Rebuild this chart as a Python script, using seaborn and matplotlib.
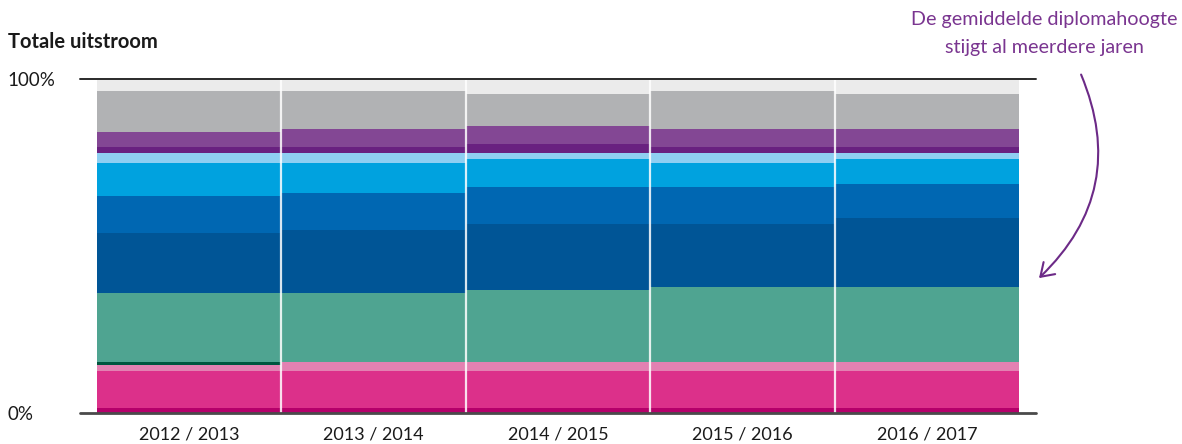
import matplotlib
matplotlib.use("Agg")
import matplotlib.pyplot as plt
import seaborn as sns
import pandas as pd
import numpy as np
from matplotlib.patches import FancyArrowPatch

# --- data (percentages, bottom layer first) ---
years = ["2012 / 2013", "2013 / 2014", "2014 / 2015", "2015 / 2016", "2016 / 2017"]
layers = ["donker magenta", "magenta", "roze", "donkergroen", "groen", "donkerblauw",
          "blauw", "lichtblauw", "bleekblauw", "donkerpaars", "paars", "grijs", "lichtgrijs"]
donker_magenta = [1.5, 1.5, 1.5, 1.5, 1.5]
magenta = [11.1, 11.1, 11.1, 11.1, 11.1]
roze = [1.8, 2.7, 2.7, 2.7, 2.7]
donkergroen = [0.9, 0.0, 0.0, 0.0, 0.0]
groen = [20.7, 20.7, 21.6, 22.5, 22.5]
donkerblauw = [18.0, 18.9, 19.8, 18.9, 20.7]
blauw = [11.1, 11.1, 11.1, 11.1, 10.2]
lichtblauw = [9.9, 9.0, 8.1, 7.2, 7.2]
bleekblauw = [2.7, 2.7, 1.8, 2.7, 1.8]
donkerpaars = [1.8, 1.8, 2.7, 1.8, 1.8]
paars = [4.5, 5.4, 5.4, 5.4, 5.4]
grijs = [12.3, 11.4, 9.6, 11.4, 10.5]
lichtgrijs = [3.7, 3.7, 4.6, 3.7, 4.6]

colors = ["#b5006a", "#dc308a", "#e381b2", "#00563f", "#4fa491", "#005596",
          "#0067b2", "#00a2df", "#8fcff2", "#692180", "#834794", "#b1b2b4", "#ebebeb"]

df = pd.DataFrame({
    "jaar": years,
    "donker magenta": donker_magenta, "magenta": magenta, "roze": roze,
    "donkergroen": donkergroen, "groen": groen, "donkerblauw": donkerblauw,
    "blauw": blauw, "lichtblauw": lichtblauw, "bleekblauw": bleekblauw,
    "donkerpaars": donkerpaars, "paars": paars, "grijs": grijs, "lichtgrijs": lichtgrijs,
})
cum = df[layers].cumsum(axis=1)

sns.set_style("white")
plt.rcParams['font.family'] = ['Lato', 'DejaVu Sans']

fig = plt.figure(figsize=(11.82, 4.44), dpi=100)
ax = fig.add_axes([80 / 1182, 31 / 444, 956 / 1182, 334 / 444])

# stacked bars: draw cumulative totals from the top layer down
for layer, col in zip(layers[::-1], colors[::-1]):
    sns.barplot(x=df["jaar"], y=cum[layer], color=col, width=1.0,
                linewidth=0, saturation=1, ax=ax, order=years)

# white separators between the bars
for i in range(1, len(years)):
    ax.axvline(i - 0.5, color="white", lw=1.6, alpha=0.85, zorder=5)

ax.set_xlim(-0.5 - 0.092, len(years) - 0.5 + 0.092)
ax.set_ylim(0, 100)
ax.axhline(100, color="#2a2a2a", lw=1.4, zorder=6, clip_on=False)
ax.axhline(0, color="#4a4a4a", lw=2, zorder=6, clip_on=False)

for s in ax.spines.values():
    s.set_visible(False)
ax.set_xlabel("")
ax.set_ylabel("")
ax.set_yticks([0, 100])
ax.set_yticklabels(["0%", "100%"])
ax.tick_params(axis="y", length=0, pad=52, labelsize=13.5, labelcolor="#1a1a1a")
for lab in ax.get_yticklabels():
    lab.set_horizontalalignment("left")
ax.tick_params(axis="x", length=0, pad=10, labelsize=13, labelcolor="#1a1a1a")

fig.text(8 / 1182, 1 - 42 / 444, "Totale uitstroom", fontsize=14.5, fontweight="bold",
         color="#1a1a1a", ha="left", va="center")

purple = "#7a3590"
fig.text(1044 / 1182, 1 - 20 / 444, "De gemiddelde diplomahoogte", fontsize=14.2,
         color=purple, ha="center", va="center")
fig.text(1044 / 1182, 1 - 47 / 444, "stijgt al meerdere jaren", fontsize=14.2,
         color=purple, ha="center", va="center")

arrow = FancyArrowPatch((1080 / 1182, 1 - 72 / 444), (1037 / 1182, 1 - 280 / 444),
                        transform=fig.transFigure, connectionstyle="arc3,rad=-0.35",
                        arrowstyle="->,head_length=6,head_width=4", color="#6c2a87",
                        lw=1.5, mutation_scale=1.5)
fig.patches.append(arrow)

fig.savefig("out.png", dpi=100)
